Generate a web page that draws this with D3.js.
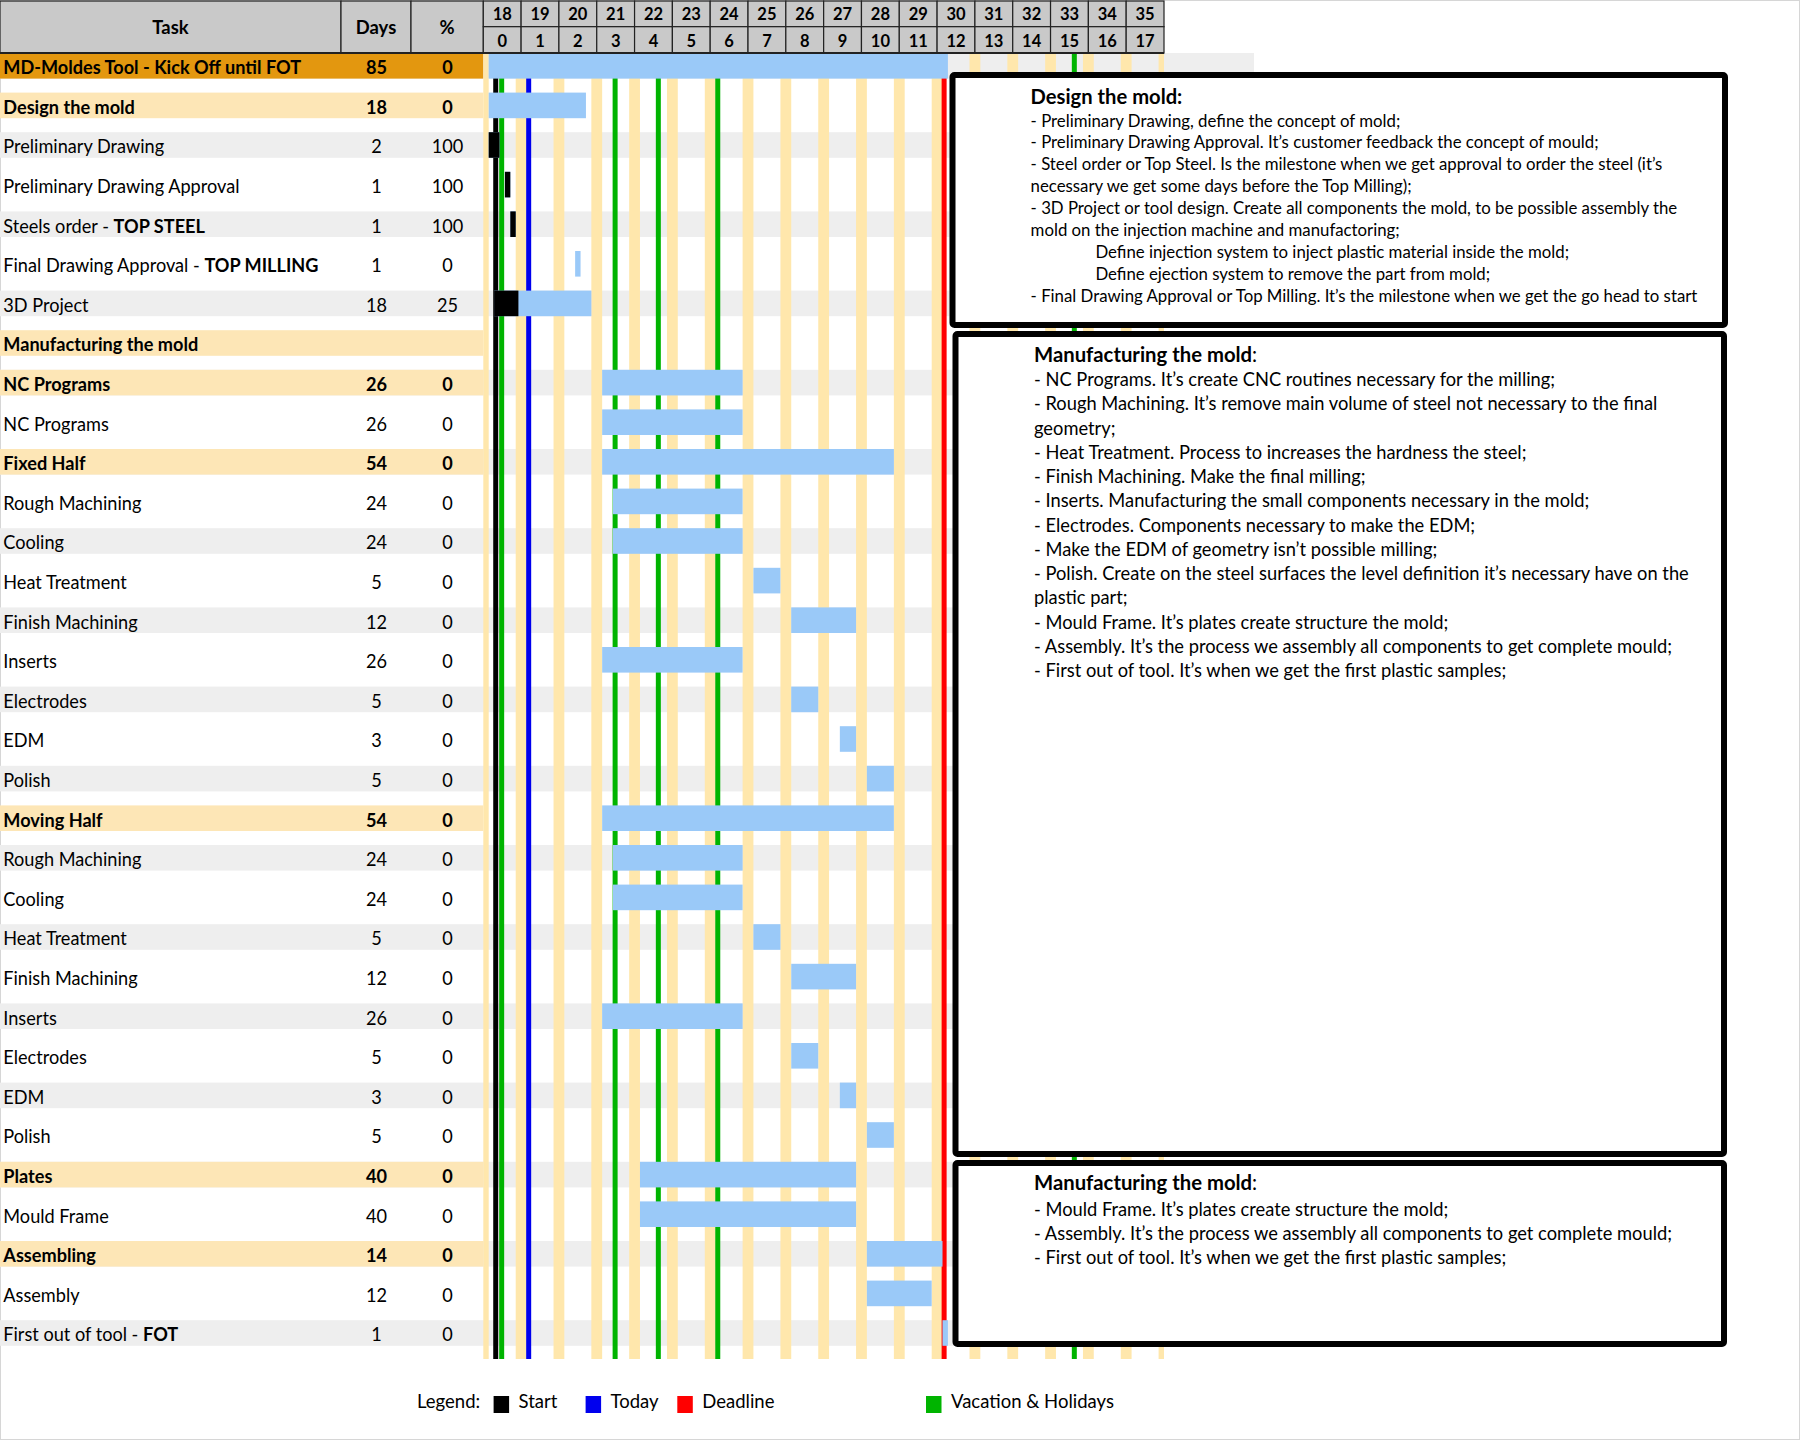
<!DOCTYPE html>
<html>
<head>
<meta charset="utf-8">
<script src="https://cdn.jsdelivr.net/npm/d3@7"></script>
<style>
	body { margin: 0; background: #fff; }
	svg { display: block; }
	text { font-family: Lato, "Noto Sans", sans-serif; fill: #000; }
</style>
</head>
<body>
<div id="chart"></div>
<script>
"use strict";

const width = 1800, height = 1440;

//  Task table
const taskLabels = [
	"MD-Moldes Tool - Kick Off until FOT", "Design the mold", "Preliminary Drawing", "Preliminary Drawing Approval",
	"Steels order - ", "Final Drawing Approval - ", "3D Project", "Manufacturing the mold",
	"NC Programs", "NC Programs", "Fixed Half",
	"Rough Machining", "Cooling", "Heat Treatment", "Finish Machining", "Inserts", "Electrodes", "EDM", "Polish",
	"Moving Half",
	"Rough Machining", "Cooling", "Heat Treatment", "Finish Machining", " Inserts", "Electrodes", "EDM", "Polish",
	"Plates", "Mould Frame", "Assembling", "Assembly", "First out of tool - "
];
const labelTails = [
	"", "", "", "", "TOP STEEL", "TOP MILLING", "", "", "", "", "",
	"", "", "", "", "", "", "", "", "",
	"", "", "", "", "", "", "", "", "", "", "", "", "FOT"
];
const rowLevels = [
	"top", "group", "task", "task", "task", "task", "task", "group", "group", "task", "group",
	"task", "task", "task", "task", "task", "task", "task", "task", "group",
	"task", "task", "task", "task", "task", "task", "task", "task", "group", "task", "group", "task", "task"
];
const taskDays = [85, 18, 2, 1, 1, 1, 18, null, 26, 26, 54, 24, 24, 5, 12, 26, 5, 3, 5, 54, 24, 24, 5, 12, 26, 5, 3, 5, 40, 40, 14, 12, 1];
const taskPercent = [0, 0, 100, 100, 100, 0, 25, null, 0, 0, 0, 0, 0, 0, 0, 0, 0, 0, 0, 0, 0, 0, 0, 0, 0, 0, 0, 0, 0, 0, 0, 0, 0];
const startDays = [1, 1, 1, 4, 5, 17, 2, null, 22, 22, 22, 24, 24, 50, 57, 22, 57, 66, 71, 22, 24, 24, 50, 57, 22, 57, 66, 71, 29, 29, 71, 71, 85];

//  Timeline
const weekNumbers = [18, 19, 20, 21, 22, 23, 24, 25, 26, 27, 28, 29, 30, 31, 32, 33, 34, 35];
const weekIndex = [0, 1, 2, 3, 4, 5, 6, 7, 8, 9, 10, 11, 12, 13, 14, 15, 16, 17];
const weekendStarts = [-1, 6, 13, 20, 27, 34, 41, 48, 55, 62, 69, 76, 83, 90, 97, 104, 111, 118, 125];
const startDay = 2.3, todayDay = 8.4, deadlineDay = 85.3;
const holidayDays = [3.4, 24.4, 32.4, 43.4, 109.4];

//  Notes
const designNotes = [
	["- Preliminary Drawing, define the concept of mold;", 0],
	["- Preliminary Drawing Approval. It\u2019s customer feedback the concept of mould;", 0],
	["- Steel order or Top Steel. Is the milestone when we get approval to order the steel (it\u2019s", 0],
	["necessary we get some days before the Top Milling);", 0],
	["- 3D Project or tool design. Create all components the mold, to be possible assembly the", 0],
	["mold on the injection machine and manufactoring;", 0],
	["Define injection system to inject plastic material inside the mold;", 1],
	["Define ejection system to remove the part from mold;", 1],
	["- Final Drawing Approval or Top Milling. It\u2019s the milestone when we get the go head to start", 0]
];
const manufacturingNotes = [
	"- NC Programs. It\u2019s create CNC routines necessary for the milling;",
	"- Rough Machining. It\u2019s remove main volume of steel not necessary to the final",
	"geometry;",
	"- Heat Treatment. Process to increases the hardness the steel;",
	"- Finish Machining. Make the final milling;",
	"- Inserts. Manufacturing the small components necessary in the mold;",
	"- Electrodes. Components necessary to make the EDM;",
	"- Make the EDM of geometry isn\u2019t possible milling;",
	"- Polish. Create on the steel surfaces the level definition it\u2019s necessary have on the",
	"plastic part;",
	"- Mould Frame. It\u2019s plates create structure the mold;",
	"- Assembly. It\u2019s the process we assembly all components to get complete mould;",
	"- First out of tool. It\u2019s when we get the first plastic samples;"
];
const assemblyNotes = [
	"- Mould Frame. It\u2019s plates create structure the mold;",
	"- Assembly. It\u2019s the process we assembly all components to get complete mould;",
	"- First out of tool. It\u2019s when we get the first plastic samples;"
];

const legendLabels = ["Start", "Today", "Deadline", "Vacation & Holidays"];
const legendColors = ["#000000", "#0000EE", "#FF0000", "#00B400"];

//  Layout
const tableRight = 483.3, chartRight = 1164, grayRight = 1254;
const headerMid = 26.7, headerBottom = 53;
const chartBottom = 1359;
const colDaysX = [341, 411];
const barHeight = 25.6;
const kTable = 0.955, kHeader = 0.97;

const colors = {
	top: "#E3970F", group: "#FDE6B6", gray: "#EEEEEE", weekend: "#FFE7AC",
	bar: "#9AC9F8", done: "#000000", header: "#C9C9C9"
};

const svg = d3.select("#chart").append("svg")
	.attr("width", width)
	.attr("height", height)
	.attr("viewBox", [0, 0, width, height]);

const x = d3.scaleLinear().domain([0, 126]).range([tableRight, chartRight]);
const weekBand = d3.scaleBand().domain(weekIndex).range([tableRight, chartRight]);
const y = d3.scaleLinear().domain([0, 32]).range([65.8, 65.8 + 32 * 39.6]);
const rows = d3.range(taskLabels.length);

function addText(parent, px, py, str, size, k, weight, anchor)
{
	return parent.append("text")
		.attr("transform", `translate(${px},${py}) scale(${k},1)`)
		.attr("font-size", size)
		.attr("font-weight", weight || "normal")
		.attr("text-anchor", anchor || "start")
		.text(str);
}

svg.append("rect")
	.attr("x", 0.5).attr("y", 0.5)
	.attr("width", width - 1).attr("height", height - 1)
	.attr("fill", "#fff").attr("stroke", "#D6D6D6");

//  Row backgrounds
const back = svg.append("g");
back.selectAll(".stripe")
	.data(rows.filter(i => i % 2 === 0))
	.join("rect")
		.attr("x", 0)
		.attr("y", i => y(i) - barHeight / 2)
		.attr("width", grayRight)
		.attr("height", barHeight)
		.attr("fill", colors.gray);
back.selectAll(".head")
	.data(rows.filter(i => rowLevels[i] !== "task"))
	.join("rect")
		.attr("x", 0)
		.attr("y", i => y(i) - barHeight / 2)
		.attr("width", tableRight)
		.attr("height", barHeight)
		.attr("fill", i => rowLevels[i] === "top" ? colors.top : colors.group);

//  Weekends
svg.append("g").selectAll("rect")
	.data(weekendStarts)
	.join("rect")
		.attr("x", d => x(Math.max(0, d)))
		.attr("y", headerBottom)
		.attr("width", d => x(Math.min(126, d + 2)) - x(Math.max(0, d)))
		.attr("height", chartBottom - headerBottom)
		.attr("fill", colors.weekend);

//  Marker lines
const markers = [
	...holidayDays.map(d => ({ day: d, color: legendColors[3] })),
	{ day: startDay, color: legendColors[0] },
	{ day: todayDay, color: legendColors[1] },
	{ day: deadlineDay, color: legendColors[2] }
];
svg.append("g").selectAll("line")
	.data(markers)
	.join("line")
		.attr("x1", m => x(m.day)).attr("x2", m => x(m.day))
		.attr("y1", headerBottom).attr("y2", chartBottom)
		.attr("stroke", m => m.color)
		.attr("stroke-width", 5);

//  Bars
const barRows = rows.filter(i => startDays[i] !== null);
const bars = svg.append("g");
bars.selectAll(".bar")
	.data(barRows)
	.join("rect")
		.attr("x", i => x(startDays[i]))
		.attr("y", i => y(i) - barHeight / 2)
		.attr("width", i => x(startDays[i] + taskDays[i]) - x(startDays[i]))
		.attr("height", barHeight)
		.attr("fill", colors.bar);
bars.selectAll(".done")
	.data(barRows.filter(i => taskPercent[i] > 0))
	.join("rect")
		.attr("x", i => x(startDays[i]))
		.attr("y", i => y(i) - barHeight / 2)
		.attr("width", i => x(startDays[i] + taskDays[i] * taskPercent[i] / 100) - x(startDays[i]))
		.attr("height", barHeight)
		.attr("fill", colors.done);

//  Header
const header = svg.append("g");
[[0, colDaysX[0], "Task"], [colDaysX[0], colDaysX[1], "Days"], [colDaysX[1], tableRight, "%"]].forEach(([a, b, label]) =>
{
	header.append("rect")
		.attr("x", a).attr("y", 1).attr("width", b - a).attr("height", headerBottom - 1)
		.attr("fill", colors.header).attr("stroke", "#222").attr("stroke-width", 1.2);
	addText(header, (a + b) / 2, 34, label, 19, kHeader, "bold", "middle");
});
weekIndex.forEach((w, i) =>
{
	const x0 = weekBand(w), bw = weekBand.bandwidth();
	header.append("rect")
		.attr("x", x0).attr("y", 1).attr("width", bw).attr("height", headerMid - 1)
		.attr("fill", colors.header).attr("stroke", "#222").attr("stroke-width", 1.2);
	header.append("rect")
		.attr("x", x0).attr("y", headerMid).attr("width", bw).attr("height", headerBottom - headerMid)
		.attr("fill", colors.header).attr("stroke", "#222").attr("stroke-width", 1.2);
	addText(header, x0 + bw / 2, 20, weekNumbers[i], 16.5, 1, "bold", "middle");
	addText(header, x0 + bw / 2, 46.5, w, 16.5, 1, "bold", "middle");
});
header.append("line")
	.attr("x1", 0).attr("x2", chartRight).attr("y1", headerBottom).attr("y2", headerBottom)
	.attr("stroke", "#222").attr("stroke-width", 2);

//  Table text
const table = svg.append("g");
rows.forEach(i =>
{
	const bold = rowLevels[i] !== "task";
	const weight = bold ? "bold" : "normal";
	const t = addText(table, 3.3, y(i) + 8.4, taskLabels[i], 19, kTable, weight);
	if (labelTails[i])
		t.append("tspan").attr("font-weight", "bold").text(labelTails[i]);
	if (taskDays[i] !== null)
		addText(table, 376.5, y(i) + 8.4, taskDays[i], 19, kTable, weight, "middle");
	if (taskPercent[i] !== null)
		addText(table, 447.5, y(i) + 8.4, taskPercent[i], 19, kTable, weight, "middle");
});

//  Note boxes
function noteBox(x0, y0, x1, y1)
{
	svg.append("rect")
		.attr("x", x0 + 3).attr("y", y0 + 3)
		.attr("width", x1 - x0 - 6).attr("height", y1 - y0 - 6)
		.attr("rx", 2)
		.attr("fill", "#fff").attr("stroke", "#000").attr("stroke-width", 6);
}
noteBox(949.5, 72, 1728, 328);
noteBox(952.5, 331, 1727, 1157);
noteBox(952.5, 1160, 1727, 1347);

const notes = svg.append("g");
addText(notes, 1030.6, 103.8, "Design the mold:", 20.2, 1, "bold");
designNotes.forEach(([line, indent], i) =>
	addText(notes, indent ? 1095.4 : 1030.6, 126.5 + i * 21.96, line, 16.8, 1));

const t2 = addText(notes, 1034, 362.2, "Manufacturing the mold", 20.3, 1, "bold");
t2.append("tspan").attr("font-weight", "normal").text(":");
manufacturingNotes.forEach((line, i) =>
	addText(notes, 1034, 386.2 + i * 24.25, line, 18.3, 1));

const t3 = addText(notes, 1034, 1189.8, "Manufacturing the mold", 20.3, 1, "bold");
t3.append("tspan").attr("font-weight", "normal").text(":");
assemblyNotes.forEach((line, i) =>
	addText(notes, 1034, 1215.5 + i * 24.15, line, 18.3, 1));

//  Legend
const legendX = [493.6, 585.6, 677.3, 926];
const legend = svg.append("g");
addText(legend, 417, 1407.5, "Legend:", 18.5, 1);
legendLabels.forEach((label, i) =>
{
	legend.append("rect")
		.attr("x", legendX[i]).attr("y", 1396)
		.attr("width", 15.5).attr("height", 17)
		.attr("fill", legendColors[i]);
	addText(legend, legendX[i] + 25, 1407.5, label, 18.5, 1);
});
</script>
</body>
</html>
